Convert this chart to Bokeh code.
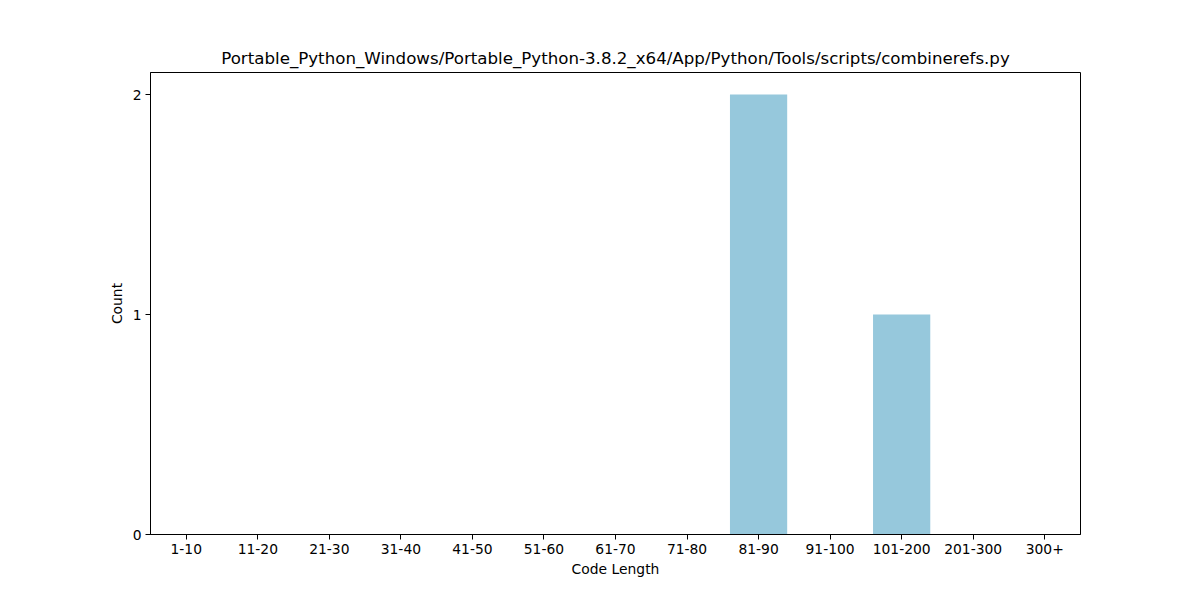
from bokeh.plotting import figure
from bokeh.models import Range1d, FixedTicker, ColumnDataSource
from bokeh.embed import file_html
from bokeh.resources import INLINE

categories = ["1-10", "11-20", "21-30", "31-40", "41-50", "51-60", "61-70",
              "71-80", "81-90", "91-100", "101-200", "201-300", "300+"]
counts = [0, 0, 0, 0, 0, 0, 0, 0, 2, 0, 1, 0, 0]
y_ticks = [0, 1, 2]
title_text = "Portable_Python_Windows/Portable_Python-3.8.2_x64/App/Python/Tools/scripts/combinerefs.py"

FONT = "DejaVu Sans"

source = ColumnDataSource(dict(cat=categories, count=counts))

p = figure(width=1200, height=600, x_range=categories, y_range=Range1d(0, 2.1),
           output_backend="svg", toolbar_location=None,
           min_border_left=150, min_border_right=120,
           min_border_top=72, min_border_bottom=66)
p.x_range.range_padding = 0

p.vbar(x="cat", top="count", width=0.8, source=source,
       fill_color="#96c8dc", line_color=None)

p.title.text = title_text
p.title.align = "center"
p.title.text_font = FONT
p.title.text_font_size = "16.67px"
p.title.text_font_style = "normal"
p.title.text_color = "black"
p.title.offset = 0

p.xgrid.visible = False
p.ygrid.visible = False
p.outline_line_color = "black"
p.outline_line_width = 1
p.outline_line_alpha = 1

p.yaxis.ticker = FixedTicker(ticks=y_ticks)
p.yaxis.minor_tick_line_color = None

for ax in (p.xaxis, p.yaxis):
    ax.axis_line_color = "black"
    ax.major_tick_line_color = "black"
    ax.major_tick_out = 5
    ax.major_tick_in = 0
    ax.major_label_text_font = FONT
    ax.major_label_text_font_size = "13.89px"
    ax.major_label_text_color = "black"
    ax.axis_label_text_font = FONT
    ax.axis_label_text_font_size = "13.89px"
    ax.axis_label_text_font_style = "normal"
    ax.axis_label_text_color = "black"
    ax.major_label_standoff = 4

p.xaxis.axis_label = "Code Length"
p.yaxis.axis_label = "Count"
p.xaxis.axis_label_standoff = 4
p.yaxis.axis_label_standoff = 5

open("out.html", "w").write(file_html(p, INLINE))
